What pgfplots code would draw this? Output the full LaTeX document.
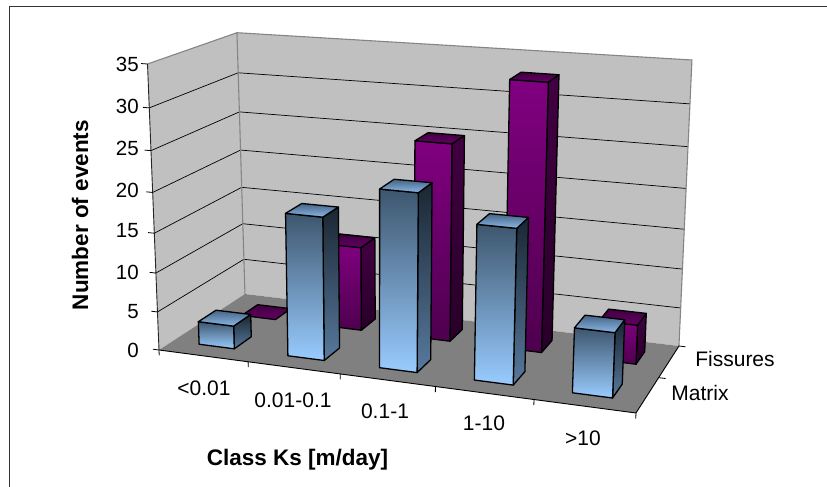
\documentclass[border=0pt]{standalone}
\usepackage{pgfplots}
\pgfplotsset{compat=1.18}
\usepackage{fontspec}
\setmainfont{Liberation Sans}

% Colours of the walls and the two series
\definecolor{wallgrey}{HTML}{C0C0C0}
\definecolor{floorgrey}{HTML}{808080}
\definecolor{edgegrey}{HTML}{858585}

\pgfplotsset{
  % perspective projection: c = category position (0..5), s = series depth (0..2), v = events (0..35)
  table/persp/.style={x expr={px(\thisrow{c},\thisrow{s},\thisrow{v})},
                y expr={py(\thisrow{c},\thisrow{s},\thisrow{v})},row sep=\\},
  matrixfront/.style={top color={rgb,255:red,62;green,86;blue,110},bottom color={rgb,255:red,153;green,204;blue,255}},
  matrixside/.style={top color={rgb,255:red,26;green,38;blue,50},bottom color={rgb,255:red,88;green,122;blue,158}},
  matrixtop/.style={top color={rgb,255:red,70;green,100;blue,132},bottom color={rgb,255:red,138;green,184;blue,232}},
  fissuresfront/.style={top color={rgb,255:red,128;green,0;blue,128},bottom color={rgb,255:red,78;green,0;blue,78}},
  fissuresside/.style={top color={rgb,255:red,66;green,0;blue,66},bottom color={rgb,255:red,40;green,0;blue,40}},
  fissurestop/.style={top color={rgb,255:red,64;green,0;blue,64},bottom color={rgb,255:red,100;green,0;blue,100}},
  face/.style={draw=black,line width=1.3pt,line join=round,mark=none},
}

% One column: slot along the categories, slot in depth, value, series name
\newcommand{\column}[4]{%
  \pgfmathsetmacro{\cl}{#1+0.3}\pgfmathsetmacro{\cr}{#1+0.7}%
  \pgfmathsetmacro{\sf}{#2+0.3}\pgfmathsetmacro{\sb}{#2+0.7}%
  \edef\doColumn{%
    \noexpand\ifdim #3pt>0pt
    \noexpand\addplot[face,#4side] table[persp]{c s v\noexpand\\ \cr\space\sf\space 0\noexpand\\ \cr\space\sb\space 0\noexpand\\ \cr\space\sb\space #3\noexpand\\ \cr\space\sf\space #3\noexpand\\} --cycle;
    \noexpand\addplot[face,#4front] table[persp]{c s v\noexpand\\ \cl\space\sf\space 0\noexpand\\ \cr\space\sf\space 0\noexpand\\ \cr\space\sf\space #3\noexpand\\ \cl\space\sf\space #3\noexpand\\} --cycle;
    \noexpand\fi
    \noexpand\addplot[face,#4top] table[persp]{c s v\noexpand\\ \cl\space\sf\space #3\noexpand\\ \cr\space\sf\space #3\noexpand\\ \cr\space\sb\space #3\noexpand\\ \cl\space\sb\space #3\noexpand\\} --cycle;
  }%
  \doColumn
}

\begin{document}
\begin{tikzpicture}
\begin{axis}[
  x=1pt,y=1pt,
  xmin=0,xmax=827,ymin=0,ymax=487,y dir=reverse,
  hide axis,clip=false,
  declare function={
    wz(\c,\s)=1-0.0811*\c/5+0.1071*\s/2;
    fx(\c,\s)=(159+85.08*\c+56.1*\s)/wz(\c,\s);
    fy(\c,\s)=(350+5.9*\c-12.25*\s)/wz(\c,\s);
    vx(\c,\s)=(1-\c/5)*(1-\s/2)*(-11.5)+(\c/5)*(1-\s/2)*13+(1-\c/5)*(\s/2)*(-8)+(\c/5)*(\s/2)*13;
    vy(\c,\s)=(1-\c/5)*(1-\s/2)*(-286)+(\c/5)*(1-\s/2)*(-310)+(1-\c/5)*(\s/2)*(-261.3)+(\c/5)*(\s/2)*(-286);
    warp(\v)=(\v/35)*0.92/(1-0.08*\v/35);
    px(\c,\s,\v)=fx(\c,\s)+warp(\v)*vx(\c,\s);
    py(\c,\s,\v)=fy(\c,\s)+warp(\v)*vy(\c,\s);
  },
]
% Page extent
\path[use as bounding box] (axis cs:0,0) rectangle (axis cs:827,487);
% Chart-area rules along the top and the left
\addplot[draw=black!80,line width=1.4pt,mark=none] coordinates {(9.5,487) (9.5,6.3) (827,6.3)};

% Floor and walls
\addplot[draw=none,fill=wallgrey,mark=none] table[persp]{c s v\\ 0 0 0\\ 0 2 0\\ 0 2 35\\ 0 0 35\\} --cycle;
\addplot[draw=none,fill=wallgrey,mark=none] table[persp]{c s v\\ 0 2 0\\ 5 2 0\\ 5 2 35\\ 0 2 35\\} --cycle;
\addplot[draw=none,fill=floorgrey,mark=none] table[persp]{c s v\\ 0 0 0\\ 5 0 0\\ 5 2 0\\ 0 2 0\\} --cycle;

% Gridlines across both walls
\pgfplotsinvokeforeach{5,10,15,20,25,30}{
  \addplot[black,line width=0.7pt,mark=none] table[persp]{c s v\\ 0 0 #1\\ 0 2 #1\\ 5 2 #1\\};
}
% Wall edges
\addplot[edgegrey,line width=1.1pt,mark=none] table[persp]{c s v\\ 0 0 35\\ 0 2 35\\ 5 2 35\\ 5 2 0\\};
\addplot[edgegrey,line width=1.1pt,mark=none] table[persp]{c s v\\ 0 2 0\\ 0 2 35\\};

% Axis lines
\addplot[black!85,line width=0.9pt,mark=none] table[persp]{c s v\\ 0 0 0\\ 0 0 35\\};
\addplot[black,line width=0.9pt,mark=none] table[persp]{c s v\\ 0 0 0\\ 5 0 0\\ 5 2 0\\};

% Tick marks on the value axis
\pgfplotsinvokeforeach{0,5,10,15,20,25,30,35}{
  \addplot[black,line width=0.8pt,mark=none] table[persp]{c s v\\ 0 0 #1\\ -0.07 0 #1\\};
}
% Tick marks on the category axis
\pgfplotsinvokeforeach{0,1,2,3,4,5}{
  \addplot[black,line width=0.8pt,mark=none] table[persp]{c s v\\ #1 0 0\\ #1 0 -0.7\\};
}
% Tick marks on the depth axis
\pgfplotsinvokeforeach{1,2}{
  \addplot[black,line width=0.8pt,mark=none] table[persp]{c s v\\ 5 #1 0\\ 5.07 #1 0\\};
}

% Columns, back row first
\column{0}{1}{0}{fissures}
\column{1}{1}{11}{fissures}
\column{2}{1}{25}{fissures}
\column{3}{1}{33}{fissures}
\column{4}{1}{5}{fissures}
\column{0}{0}{3}{matrix}
\column{1}{0}{18}{matrix}
\column{2}{0}{22}{matrix}
\column{3}{0}{19}{matrix}
\column{4}{0}{8}{matrix}

% Value axis numbers
\foreach \lab/\yy in {35/64,30/106.5,25/148,20/190,15/231,10/272.5,5/312,0/350}{
  \edef\temp{\noexpand\node[anchor=east,font=\noexpand\fontsize{20.5}{20.5}\noexpand\selectfont,inner sep=0pt] at (axis cs:139,\yy) {\lab};}
  \temp
}
% Category and series names
\node[font=\fontsize{21}{21}\selectfont,inner sep=0pt] at (axis cs:204,388) {<0.01};
\node[font=\fontsize{21}{21}\selectfont,inner sep=0pt] at (axis cs:293,400) {0.01-0.1};
\node[font=\fontsize{21}{21}\selectfont,inner sep=0pt] at (axis cs:385,411) {0.1-1};
\node[font=\fontsize{21}{21}\selectfont,inner sep=0pt] at (axis cs:484,423) {1-10};
\node[font=\fontsize{21}{21}\selectfont,inner sep=0pt] at (axis cs:583,438) {>10};
\node[font=\fontsize{21}{21}\selectfont,inner sep=0pt] at (axis cs:735,359) {Fissures};
\node[font=\fontsize{21}{21}\selectfont,inner sep=0pt] at (axis cs:700,393) {Matrix};
% Axis titles
\node[font=\fontsize{22.5}{22.5}\selectfont\bfseries,inner sep=0pt,rotate=90] at (axis cs:80,215) {Number of events};
\node[font=\fontsize{22.5}{22.5}\selectfont\bfseries,inner sep=0pt] at (axis cs:297.5,460) {Class Ks [m/day]};
\end{axis}
\end{tikzpicture}
\end{document}
